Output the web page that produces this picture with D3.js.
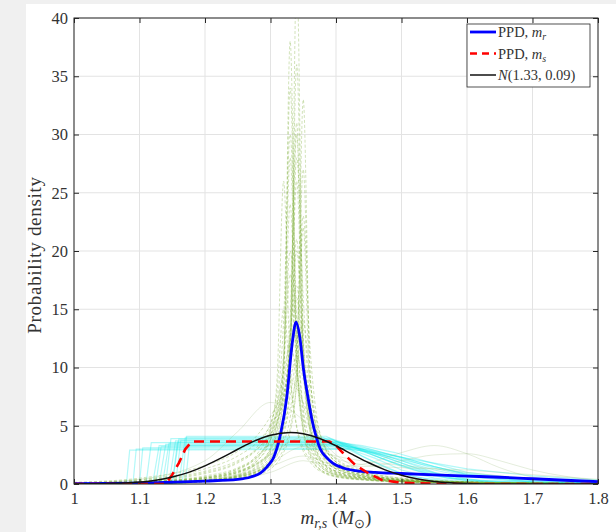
<!DOCTYPE html>
<html>
<head>
<meta charset="utf-8">
<script src="https://cdn.jsdelivr.net/npm/d3@7"></script>
<style>
  html, body { margin: 0; padding: 0; background: #f0f0f0; }
  svg { display: block; }
</style>
</head>
<body>
<div id="chart"></div>
<script>
// Ticks
const xTicks = [1, 1.1, 1.2, 1.3, 1.4, 1.5, 1.6, 1.7, 1.8];
const yTicks = [0, 5, 10, 15, 20, 25, 30, 35, 40];

// Posterior samples of m_r (green dashed), all on the same x grid
const greenX = [1.00, 1.10, 1.20, 1.25, 1.28, 1.30, 1.31, 1.32, 1.33, 1.34, 1.35, 1.36, 1.37, 1.38, 1.40, 1.45, 1.50, 1.60, 1.70, 1.80];
const greenSamples = [
  [0.02, 0.08, 0.3, 0.7, 1.4, 2.8, 4.6, 10, 34, 12, 4.8, 2.6, 1.6, 1.1, 0.7, 0.35, 0.2, 0.1, 0.05, 0.03],
  [0.02, 0.06, 0.25, 0.6, 1.1, 2.0, 3.0, 5.0, 11, 26, 10, 4.6, 2.6, 1.7, 1.0, 0.45, 0.25, 0.12, 0.06, 0.03],
  [0.01, 0.05, 0.2, 0.45, 0.9, 1.6, 2.4, 4, 9, 44, 12, 4.5, 2.3, 1.4, 0.8, 0.35, 0.2, 0.1, 0.05, 0.02],
  [0.05, 0.15, 0.5, 1.1, 2.0, 3.8, 6, 10, 18, 10, 5.5, 3.2, 2.1, 1.5, 0.9, 0.45, 0.25, 0.12, 0.06, 0.03],
  [0.02, 0.06, 0.22, 0.5, 0.9, 1.5, 2.1, 3.0, 4.8, 9, 22, 8, 4, 2.4, 1.3, 0.55, 0.3, 0.14, 0.07, 0.04],
  [0.04, 0.15, 0.6, 1.3, 2.6, 5, 8, 15, 9, 5, 3.1, 2.1, 1.5, 1.1, 0.7, 0.35, 0.2, 0.1, 0.05, 0.03],
  [0.02, 0.07, 0.28, 0.65, 1.2, 2.2, 3.4, 6, 13, 30, 11, 5, 2.8, 1.8, 1.0, 0.45, 0.25, 0.12, 0.06, 0.03],
  [0.03, 0.1, 0.35, 0.8, 1.6, 3.2, 5.5, 11, 28, 11, 5, 2.9, 1.9, 1.3, 0.8, 0.4, 0.22, 0.11, 0.05, 0.03],
  [0.05, 0.2, 0.7, 1.4, 2.4, 3.8, 5.2, 7.5, 12, 20, 12, 7, 4.4, 2.9, 1.6, 0.7, 0.35, 0.15, 0.07, 0.04],
  [0.01, 0.05, 0.18, 0.4, 0.75, 1.3, 1.8, 2.7, 4.4, 9, 33, 10, 4.6, 2.6, 1.4, 0.6, 0.3, 0.14, 0.07, 0.03],
  [0.08, 0.3, 1.0, 1.9, 3.2, 5.2, 7, 9.5, 12, 9.5, 6.8, 4.8, 3.4, 2.5, 1.5, 0.7, 0.35, 0.15, 0.07, 0.04],
  [0.02, 0.06, 0.24, 0.55, 1.0, 1.9, 2.9, 5.2, 12, 36, 13, 5.5, 3, 1.9, 1.1, 0.5, 0.26, 0.12, 0.06, 0.03],
  [0.02, 0.09, 0.32, 0.75, 1.5, 3.0, 5.0, 10, 24, 10, 4.6, 2.7, 1.8, 1.3, 0.8, 0.4, 0.22, 0.11, 0.05, 0.03],
  [0.05, 0.2, 0.6, 1.3, 2.3, 3.8, 5.3, 7.8, 11, 16, 10, 6, 3.9, 2.7, 1.5, 0.7, 0.35, 0.15, 0.07, 0.04],
  [0.05, 0.2, 0.55, 1.1, 1.8, 2.7, 3.5, 4.7, 6.5, 9.5, 14, 9, 5.5, 3.6, 1.9, 0.8, 0.4, 0.17, 0.08, 0.04],
  [0.02, 0.1, 0.4, 1.0, 2.2, 4.6, 9, 26, 10, 4.8, 2.8, 1.9, 1.3, 1.0, 0.65, 0.32, 0.18, 0.09, 0.05, 0.03],
  [0.03, 0.12, 0.45, 1.0, 1.8, 3.0, 4.4, 7, 12, 21, 11, 5.6, 3.3, 2.2, 1.3, 0.6, 0.3, 0.14, 0.07, 0.03],
  [0.01, 0.05, 0.2, 0.5, 1.0, 2.1, 3.8, 8.5, 38, 11, 4.4, 2.4, 1.5, 1.0, 0.6, 0.3, 0.16, 0.08, 0.04, 0.02],
  [0.02, 0.08, 0.3, 0.65, 1.1, 1.8, 2.5, 3.6, 5.7, 11, 27, 10, 4.8, 2.8, 1.5, 0.65, 0.32, 0.15, 0.07, 0.04],
  [0.15, 0.5, 1.6, 2.8, 4.2, 5.8, 6.8, 7.9, 9, 8.2, 7.0, 5.6, 4.4, 3.4, 2.1, 0.9, 0.45, 0.18, 0.08, 0.04],
  [0.1, 0.35, 1.1, 2.0, 3.0, 4.3, 5.4, 7, 9, 11, 9, 6.5, 4.6, 3.3, 1.9, 0.8, 0.4, 0.17, 0.08, 0.04],
  [0.02, 0.08, 0.3, 0.7, 1.3, 2.4, 3.6, 6.2, 14, 31, 11, 5.2, 2.9, 1.9, 1.1, 0.5, 0.26, 0.12, 0.06, 0.03],
  [0.06, 0.25, 0.9, 1.8, 3.0, 4.6, 6.2, 8.5, 13, 17, 11, 6.8, 4.4, 3.0, 1.7, 0.8, 0.4, 0.18, 0.08, 0.04],
  [0.03, 0.12, 0.5, 1.2, 2.4, 4.2, 6.5, 11, 20, 13, 6.5, 3.8, 2.5, 1.8, 1.1, 0.55, 0.3, 0.14, 0.07, 0.03],
  [0.04, 0.15, 0.5, 1.0, 1.7, 2.6, 3.5, 5, 7.5, 12, 23, 12, 6, 3.6, 1.9, 0.8, 0.4, 0.18, 0.08, 0.04],
  [0.02, 0.08, 0.35, 0.9, 2.0, 4.0, 7, 14, 30, 14, 6, 3.4, 2.2, 1.5, 0.9, 0.45, 0.25, 0.12, 0.06, 0.03],
  [0.1, 0.4, 1.3, 2.4, 3.6, 5.0, 6.0, 7.5, 10, 14, 10, 7, 5, 3.6, 2.2, 1.0, 0.5, 0.2, 0.09, 0.05],
  [0.02, 0.07, 0.26, 0.6, 1.1, 2.0, 3.1, 5.5, 12, 28, 16, 7, 3.8, 2.4, 1.3, 0.6, 0.3, 0.13, 0.06, 0.03]
];

// A few broad m_r samples (faint solid green)
const broadX = [1.0, 1.1, 1.2, 1.25, 1.3, 1.35, 1.4, 1.45, 1.5, 1.55, 1.6, 1.65, 1.7, 1.8];
const broadSamples = [
  [0, 0.05, 0.2, 0.4, 1.0, 2.0, 1.5, 1.8, 2.7, 3.3, 2.6, 1.4, 0.6, 0.1],
  [0, 0.05, 0.3, 0.6, 1.5, 2.4, 1.6, 1.5, 2.0, 2.5, 2.6, 2.0, 1.2, 0.3],
  [0.05, 0.4, 2.0, 4.5, 7, 5.5, 2.5, 1.0, 0.5, 0.3, 0.2, 0.1, 0.05, 0],
  [0, 0.1, 0.4, 0.8, 2.5, 4, 2.2, 1.6, 1.4, 1.3, 1.2, 1.0, 0.8, 0.4],
  [0, 0.05, 0.3, 0.7, 1.8, 3.2, 2.4, 1.9, 1.6, 1.3, 1.0, 0.7, 0.45, 0.15]
];

// Posterior samples of m_s (cyan), [x, density] pairs
const cyanSamples = [
  [[1.0, 0], [1.145, 0], [1.155, 3.7], [1.39, 3.7], [1.42, 3.0], [1.46, 2.2], [1.5, 1.2], [1.55, 0.5], [1.6, 0.15], [1.7, 0.02], [1.8, 0]],
  [[1.0, 0], [1.12, 0], [1.13, 3.3], [1.40, 3.4], [1.44, 3.0], [1.5, 2.0], [1.55, 1.0], [1.6, 0.4], [1.7, 0.08], [1.8, 0]],
  [[1.0, 0], [1.16, 0], [1.17, 4.0], [1.38, 4.0], [1.41, 3.2], [1.45, 2.1], [1.5, 0.9], [1.55, 0.3], [1.6, 0.08], [1.8, 0]],
  [[1.0, 0], [1.08, 0], [1.085, 2.9], [1.42, 3.0], [1.46, 2.7], [1.52, 2.1], [1.6, 1.3], [1.7, 0.7], [1.8, 0.35]],
  [[1.0, 0], [1.135, 0], [1.145, 3.5], [1.40, 3.55], [1.43, 3.1], [1.48, 2.2], [1.53, 1.2], [1.58, 0.5], [1.65, 0.12], [1.8, 0]],
  [[1.0, 0], [1.15, 0], [1.16, 3.85], [1.39, 3.85], [1.42, 3.3], [1.46, 2.4], [1.5, 1.5], [1.55, 0.7], [1.6, 0.25], [1.7, 0.04], [1.8, 0]],
  [[1.0, 0], [1.1, 0], [1.105, 3.1], [1.41, 3.2], [1.45, 2.9], [1.5, 2.3], [1.55, 1.5], [1.6, 0.8], [1.7, 0.2], [1.8, 0.05]],
  [[1.0, 0], [1.165, 0], [1.172, 4.1], [1.385, 4.1], [1.41, 3.4], [1.44, 2.4], [1.48, 1.3], [1.52, 0.6], [1.58, 0.18], [1.7, 0.02], [1.8, 0]],
  [[1.0, 0], [1.13, 0], [1.14, 3.4], [1.41, 3.45], [1.45, 3.0], [1.5, 2.3], [1.55, 1.5], [1.6, 0.8], [1.7, 0.2], [1.8, 0.04]],
  [[1.0, 0], [1.155, 0], [1.163, 3.75], [1.395, 3.8], [1.43, 3.1], [1.47, 2.2], [1.52, 1.2], [1.57, 0.5], [1.63, 0.15], [1.8, 0]],
  [[1.0, 0], [1.125, 0], [1.133, 3.2], [1.41, 3.3], [1.45, 2.9], [1.5, 2.0], [1.55, 1.2], [1.6, 0.6], [1.7, 0.15], [1.8, 0.03]],
  [[1.0, 0], [1.15, 0], [1.158, 3.6], [1.40, 3.65], [1.44, 3.2], [1.49, 2.4], [1.54, 1.5], [1.6, 0.7], [1.7, 0.15], [1.8, 0.02]],
  [[1.0, 0], [1.09, 0], [1.095, 3.0], [1.42, 3.05], [1.47, 2.5], [1.53, 1.7], [1.6, 0.9], [1.7, 0.3], [1.8, 0.08]],
  [[1.0, 0], [1.14, 0], [1.148, 3.9], [1.39, 3.95], [1.42, 3.4], [1.46, 2.6], [1.51, 1.6], [1.56, 0.8], [1.62, 0.3], [1.8, 0]],
  [[1.0, 0], [1.11, 0], [1.118, 3.55], [1.40, 3.6], [1.44, 3.3], [1.49, 2.7], [1.54, 1.9], [1.6, 1.0], [1.7, 0.3], [1.8, 0.06]],
  [[1.0, 0], [1.17, 0], [1.176, 3.3], [1.41, 3.35], [1.45, 2.6], [1.5, 1.6], [1.55, 0.8], [1.6, 0.3], [1.7, 0.05], [1.8, 0]]
];

// PPD of m_r (blue)
const ppdRX = [1.0, 1.1, 1.15, 1.2, 1.25, 1.27, 1.285, 1.295, 1.305, 1.315, 1.325, 1.333, 1.339, 1.345, 1.35, 1.357, 1.363, 1.37, 1.376, 1.385, 1.395, 1.41, 1.43, 1.46, 1.5, 1.55, 1.6, 1.65, 1.7, 1.75, 1.8];
const ppdRY = [0.02, 0.08, 0.15, 0.25, 0.4, 0.6, 0.95, 1.5, 2.3, 4.2, 7.5, 12, 13.9, 12.5, 10, 7.5, 5.6, 4.0, 3.0, 2.3, 1.8, 1.4, 1.15, 1.0, 0.9, 0.78, 0.68, 0.58, 0.45, 0.32, 0.2];

// PPD of m_s (red dashed)
const ppdSX = [1.0, 1.14, 1.15, 1.16, 1.17, 1.18, 1.39, 1.40, 1.41, 1.43, 1.45, 1.47, 1.5, 1.55, 1.6, 1.8];
const ppdSY = [0, 0, 0.8, 1.8, 3.0, 3.65, 3.65, 3.3, 2.7, 1.6, 0.9, 0.35, 0.1, 0.02, 0, 0];

// Normal reference N(1.33, 0.09) (black)
const normX = [1.0, 1.05, 1.1, 1.125, 1.15, 1.175, 1.2, 1.225, 1.25, 1.275, 1.3, 1.33, 1.35, 1.375, 1.4, 1.425, 1.45, 1.475, 1.5, 1.525, 1.55, 1.575, 1.6, 1.65, 1.7, 1.8];
const normY = [0.005, 0.035, 0.169, 0.331, 0.60, 1.0, 1.56, 2.24, 2.98, 3.68, 4.19, 4.43, 4.32, 3.91, 3.28, 2.54, 1.82, 1.21, 0.744, 0.424, 0.223, 0.109, 0.049, 0.008, 0.001, 0];

const legendLabels = ["PPD, ", "PPD, ", "(1.33, 0.09)"];

// Dimensions
const width = 616;
const height = 532;
const margin = { left: 74, right: 18, top: 18, bottom: 48 };
const serif = "'Liberation Serif', 'Times New Roman', serif";
const axisColor = "#262626";

const x = d3.scaleLinear().domain([1, 1.8]).range([margin.left, width - margin.right]);
const y = d3.scaleLinear().domain([0, 40]).range([height - margin.bottom, margin.top]);

const svg = d3
  .select("#chart")
  .append("svg")
  .attr("width", width)
  .attr("height", height);

// Figure background
svg.append("rect").attr("width", width).attr("height", height).attr("fill", "#f0f0f0");
svg.append("rect").attr("x", 26).attr("y", 4).attr("width", width - 26).attr("height", height - 4).attr("fill", "#fff");

svg
  .append("clipPath")
  .attr("id", "plot-clip")
  .append("rect")
  .attr("x", x(1))
  .attr("y", y(40))
  .attr("width", x(1.8) - x(1))
  .attr("height", y(0) - y(40));

// Grid
const grid = svg.append("g").attr("stroke", "#e3e3e3").attr("stroke-width", 1);
grid
  .selectAll("line.gx")
  .data(xTicks)
  .join("line")
  .attr("class", "gx")
  .attr("x1", (d) => x(d))
  .attr("x2", (d) => x(d))
  .attr("y1", y(0))
  .attr("y2", y(40));
grid
  .selectAll("line.gy")
  .data(yTicks)
  .join("line")
  .attr("class", "gy")
  .attr("x1", x(1))
  .attr("x2", x(1.8))
  .attr("y1", (d) => y(d))
  .attr("y2", (d) => y(d));

const plot = svg.append("g").attr("clip-path", "url(#plot-clip)");

const lineXY = d3
  .line()
  .x((d) => x(d[0]))
  .y((d) => y(d[1]));

const smooth = d3
  .line()
  .x((d) => x(d[0]))
  .y((d) => y(d[1]))
  .curve(d3.curveMonotoneX);

// Cyan samples of m_s
plot
  .append("g")
  .selectAll("path")
  .data(cyanSamples)
  .join("path")
  .attr("d", lineXY)
  .attr("fill", "none")
  .attr("stroke", "#00e8e8")
  .attr("stroke-opacity", 0.3)
  .attr("stroke-width", 1.2);

// Broad m_r samples
plot
  .append("g")
  .selectAll("path")
  .data(broadSamples)
  .join("path")
  .attr("d", (s) => smooth(s.map((v, i) => [broadX[i], v])))
  .attr("fill", "none")
  .attr("stroke", "#9cbf80")
  .attr("stroke-opacity", 0.35)
  .attr("stroke-width", 0.8);

// Green dashed samples of m_r
plot
  .append("g")
  .selectAll("path")
  .data(greenSamples)
  .join("path")
  .attr("d", (s) => smooth(s.map((v, i) => [greenX[i], v])))
  .attr("fill", "none")
  .attr("stroke", "#77ac30")
  .attr("stroke-opacity", 0.42)
  .attr("stroke-width", 0.8)
  .attr("stroke-dasharray", "3,2");

// PPD m_r
plot
  .append("path")
  .attr("d", smooth(ppdRX.map((v, i) => [v, ppdRY[i]])))
  .attr("fill", "none")
  .attr("stroke", "#0000ff")
  .attr("stroke-width", 2.8);

// PPD m_s
plot
  .append("path")
  .attr("d", lineXY(ppdSX.map((v, i) => [v, ppdSY[i]])))
  .attr("fill", "none")
  .attr("stroke", "#ff0000")
  .attr("stroke-width", 2.6)
  .attr("stroke-dasharray", "10,6");

// Normal reference
plot
  .append("path")
  .attr("d", smooth(normX.map((v, i) => [v, normY[i]])))
  .attr("fill", "none")
  .attr("stroke", "#111")
  .attr("stroke-width", 1.5);

// Axes (ticks pointing inward)
const fmt = (d) => String(+d.toFixed(1));

const styleAxis = (g) => {
  g.select(".domain").remove();
  g.selectAll(".tick line").attr("stroke", axisColor);
  g.selectAll(".tick text")
    .attr("fill", "#333")
    .attr("font-family", serif)
    .attr("font-size", 16.5);
};

svg
  .append("g")
  .attr("transform", `translate(0,${y(0)})`)
  .call(d3.axisBottom(x).tickValues(xTicks).tickFormat(fmt).tickSizeInner(-5).tickSizeOuter(0).tickPadding(8))
  .call(styleAxis);

svg
  .append("g")
  .attr("transform", `translate(0,${y(40)})`)
  .call(d3.axisTop(x).tickValues(xTicks).tickFormat("").tickSizeInner(-5).tickSizeOuter(0))
  .call(styleAxis);

svg
  .append("g")
  .attr("transform", `translate(${x(1)},0)`)
  .call(d3.axisLeft(y).tickValues(yTicks).tickSizeInner(-5).tickSizeOuter(0).tickPadding(6))
  .call(styleAxis);

svg
  .append("g")
  .attr("transform", `translate(${x(1.8)},0)`)
  .call(d3.axisRight(y).tickValues(yTicks).tickFormat("").tickSizeInner(-5).tickSizeOuter(0))
  .call(styleAxis);

// Axes box
svg
  .append("rect")
  .attr("x", x(1))
  .attr("y", y(40))
  .attr("width", x(1.8) - x(1))
  .attr("height", y(0) - y(40))
  .attr("fill", "none")
  .attr("stroke", axisColor)
  .attr("stroke-width", 1);

// Axis titles
const xTitle = svg
  .append("text")
  .attr("x", (x(1) + x(1.8)) / 2)
  .attr("y", 524)
  .attr("text-anchor", "middle")
  .attr("font-family", serif)
  .attr("font-size", 19)
  .attr("fill", "#333");
xTitle.append("tspan").attr("font-style", "italic").text("m");
xTitle.append("tspan").attr("font-style", "italic").attr("font-size", 14).attr("dy", 4).text("r,s");
xTitle.append("tspan").attr("dy", -4).text(" (");
xTitle.append("tspan").attr("font-style", "italic").text("M");
xTitle.append("tspan").attr("font-size", 13).attr("dy", 4).text("⊙");
xTitle.append("tspan").attr("dy", -4).text(")");

svg
  .append("text")
  .attr("transform", `translate(41,${(y(0) + y(40)) / 2 + 4}) rotate(-90)`)
  .attr("text-anchor", "middle")
  .attr("font-family", serif)
  .attr("font-size", 19)
  .attr("letter-spacing", 0.7)
  .attr("fill", "#333")
  .text("Probability density");

// Legend
const legend = svg.append("g").attr("transform", "translate(467,24)");
legend
  .append("rect")
  .attr("width", 123)
  .attr("height", 63)
  .attr("fill", "#fff")
  .attr("stroke", axisColor)
  .attr("stroke-width", 0.8);

const legendItems = [
  { color: "#0000ff", width: 2.8, dash: null, sub: "r" },
  { color: "#ff0000", width: 2.6, dash: "7,5", sub: "s" },
  { color: "#111", width: 1.5, dash: null, sub: null }
];

legendItems.forEach((item, i) => {
  const ry = 8 + i * 21.5;
  legend
    .append("line")
    .attr("x1", 3)
    .attr("x2", 29)
    .attr("y1", ry)
    .attr("y2", ry)
    .attr("stroke", item.color)
    .attr("stroke-width", item.width)
    .attr("stroke-dasharray", item.dash);
  const t = legend
    .append("text")
    .attr("x", 31)
    .attr("y", ry + 5)
    .attr("font-family", serif)
    .attr("font-size", 14.5)
    .attr("fill", "#333");
  if (item.sub) {
    t.append("tspan").text(legendLabels[i]);
    t.append("tspan").attr("font-style", "italic").text("m");
    t.append("tspan").attr("font-style", "italic").attr("font-size", 10).attr("dy", 3).text(item.sub);
  } else {
    t.append("tspan").attr("font-style", "italic").text("N");
    t.append("tspan").text(legendLabels[i]);
  }
});
</script>
</body>
</html>
